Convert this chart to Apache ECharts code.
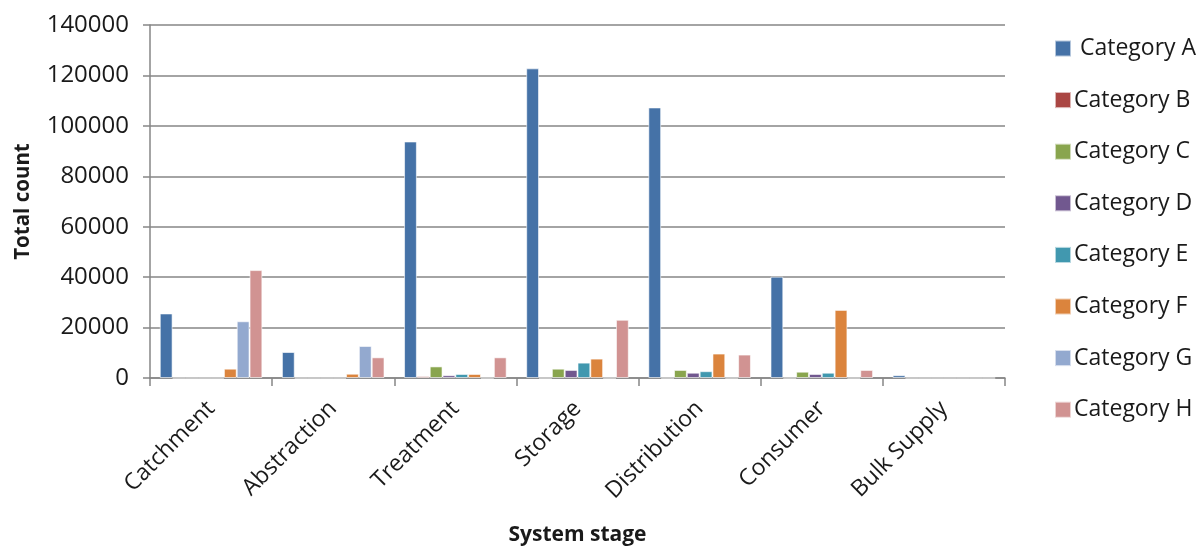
<!DOCTYPE html>
<html>
<head>
<meta charset="utf-8">
<script src="https://cdn.jsdelivr.net/npm/echarts@6/dist/echarts.min.js"></script>
<style>
  html, body { margin: 0; padding: 0; background: #fff; }
  #chart { width: 1200px; height: 547px; }
</style>
</head>
<body>
<div id="chart"></div>
<script>
// System stages along the x axis
const stages = ['Catchment', 'Abstraction', 'Treatment', 'Storage', 'Distribution', 'Consumer', 'Bulk Supply'];

// Counts per stage for each category
const categoryA = [25600, 10300, 93800, 122800, 107300, 40200, 1100];
const categoryB = [0, 0, 700, 0, 0, 0, 0];
const categoryC = [0, 0, 4600, 3700, 3200, 2500, 0];
const categoryD = [0, 0, 1100, 3200, 2100, 1600, 0];
const categoryE = [0, 0, 1600, 6100, 2700, 2100, 0];
const categoryF = [3700, 1700, 1600, 7700, 9700, 27000, 0];
const categoryG = [22500, 12700, 0, 0, 0, 0, 0];
const categoryH = [42800, 8200, 8200, 23100, 9300, 3200, 0];

const seriesNames = [' Category A', 'Category B', 'Category C', 'Category D', 'Category E', 'Category F', 'Category G', 'Category H'];
const seriesValues = [categoryA, categoryB, categoryC, categoryD, categoryE, categoryF, categoryG, categoryH];
const palette = ['#4572A7', '#AA4643', '#89A54E', '#71588F', '#4198AF', '#DB843D', '#93A9CF', '#D19392'];

const yTicks = [0, 20000, 40000, 60000, 80000, 100000, 120000, 140000];

const FONT = '"Open Sans", "Noto Sans", sans-serif';
const AXIS_GREY = '#868686';
const TEXT = '#1a1a1a';

const chart = echarts.init(document.getElementById('chart'), null, { renderer: 'canvas' });

chart.setOption({
  animation: false,
  color: palette,
  textStyle: { fontFamily: FONT },
  grid: { left: 150, right: 195, top: 25, bottom: 169, containLabel: false, outerBoundsMode: 'none' },
  legend: {
    orient: 'vertical',
    left: 1054,
    top: 37,
    padding: 0,
    itemWidth: 16,
    itemHeight: 16,
    itemGap: 28.6,
    icon: 'rect',
    textStyle: { fontFamily: FONT, fontSize: 23, color: TEXT, padding: [0, 0, 0, -2] },
    data: seriesNames
  },
  xAxis: {
    type: 'category',
    data: stages,
    name: 'System stage',
    nameLocation: 'middle',
    nameGap: 147,
    nameTextStyle: { fontFamily: FONT, fontSize: 21, fontWeight: 'bold', color: TEXT },
    axisLine: { lineStyle: { color: AXIS_GREY, width: 1.5 } },
    axisTick: { show: true, length: 8, lineStyle: { color: AXIS_GREY, width: 1.5 } },
    axisLabel: { rotate: 45, fontFamily: FONT, fontSize: 23, color: TEXT, margin: 27 },
    splitLine: { show: false }
  },
  yAxis: {
    type: 'value',
    min: yTicks[0],
    max: yTicks[yTicks.length - 1],
    interval: 20000,
    name: 'Total count',
    nameLocation: 'middle',
    nameGap: 116,
    nameTextStyle: { fontFamily: FONT, fontSize: 20.5, fontWeight: 'bold', color: TEXT },
    axisLine: { show: true, lineStyle: { color: AXIS_GREY, width: 1.5 } },
    axisTick: { show: true, inside: false, length: 7, lineStyle: { color: AXIS_GREY, width: 1.5 } },
    axisLabel: { fontFamily: FONT, fontSize: 24, color: TEXT, margin: 21, formatter: v => String(v) },
    splitLine: { show: true, lineStyle: { color: AXIS_GREY, width: 1.5 } }
  },
  series: seriesNames.map((name, i) => ({
    name: name,
    type: 'bar',
    data: seriesValues[i],
    barGap: '0%',
    barCategoryGap: '16%',
    itemStyle: { color: palette[i], borderColor: 'rgba(255,255,255,0.6)', borderWidth: 1 }
  }))
});
</script>
</body>
</html>
